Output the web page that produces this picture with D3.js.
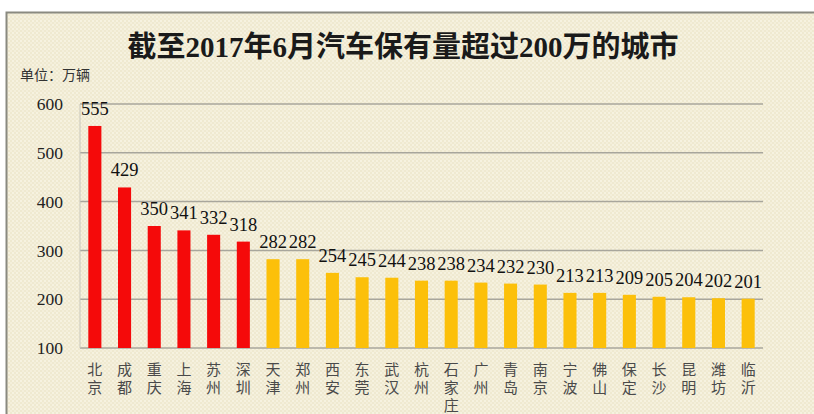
<!DOCTYPE html>
<html>
<head>
<meta charset="utf-8">
<script src="https://cdn.jsdelivr.net/npm/d3@7"></script>
<style>
  body { margin: 0; background: #fff; }
  svg { display: block; }
</style>
</head>
<body>
<script>
// chart data
var cities = ["北京", "成都", "重庆", "上海", "苏州", "深圳", "天津", "郑州", "西安", "东莞", "武汉", "杭州",
  "石家庄", "广州", "青岛", "南京", "宁波", "佛山", "保定", "长沙", "昆明", "潍坊", "临沂"];
var cars = [555, 429, 350, 341, 332, 318, 282, 282, 254, 245, 244, 238, 238, 234, 232, 230, 213, 213, 209, 205, 204, 202, 201];
var yTicks = [100, 200, 300, 400, 500, 600];
var redCount = 6; // first six cities drawn in red

var w = 814, h = 414;
var plotLeft = 80, plotRight = 763, plotTop = 104, plotBottom = 348;

var svg = d3.select("body").append("svg").attr("width", w).attr("height", h);

// textured beige panel
var defs = svg.append("defs");
var pat = defs.append("pattern").attr("id", "tex")
  .attr("width", 4).attr("height", 4).attr("patternUnits", "userSpaceOnUse");
pat.append("rect").attr("width", 4).attr("height", 4).attr("fill", "#efe9d0");
pat.append("rect").attr("x", 0).attr("y", 0).attr("width", 2).attr("height", 2).attr("fill", "#f6f2e0");
pat.append("rect").attr("x", 2).attr("y", 2).attr("width", 2).attr("height", 2).attr("fill", "#f4efdb");

svg.append("rect").attr("x", 6).attr("y", 12).attr("width", w - 6).attr("height", h - 12)
  .attr("fill", "url(#tex)");
svg.append("path").attr("d", "M6.5," + h + "V12.5H" + w)
  .attr("fill", "none").attr("stroke", "#8a8a80").attr("stroke-width", 2);

// title
svg.append("text").attr("x", 403).attr("y", 57).attr("text-anchor", "middle")
  .attr("font-family", "'Liberation Serif', 'Noto Sans CJK SC', serif")
  .attr("font-weight", "bold").attr("font-size", 29).attr("fill", "#1a1a1a")
  .text("截至2017年6月汽车保有量超过200万的城市");

svg.append("text").attr("x", 20).attr("y", 80)
  .attr("font-family", "'Noto Sans CJK SC', sans-serif")
  .attr("font-size", 14).attr("fill", "#333")
  .text("单位：万辆");

var x = d3.scaleBand().domain(cities).range([plotLeft, plotRight]).paddingInner(0.56).paddingOuter(0.28);
var y = d3.scaleLinear().domain([100, 600]).range([plotBottom, plotTop]);

// gridlines
svg.append("g").selectAll("line").data(yTicks).join("line")
  .attr("x1", plotLeft).attr("x2", plotRight)
  .attr("y1", function (d) { return y(d); })
  .attr("y2", function (d) { return y(d); })
  .attr("stroke", "#a8a69c").attr("stroke-width", 1.5);

svg.append("line").attr("x1", plotLeft).attr("x2", plotLeft).attr("y1", plotTop).attr("y2", plotBottom)
  .attr("stroke", "#c8c6bc").attr("stroke-width", 1);

// y axis labels
var yAxis = d3.axisLeft(y).tickValues(yTicks).tickSize(0).tickPadding(17);
var gy = svg.append("g").attr("transform", "translate(" + plotLeft + ",0)").call(yAxis);
gy.select(".domain").remove();
gy.selectAll("text")
  .attr("font-family", "'Liberation Serif', serif")
  .attr("font-size", 17.5).attr("fill", "#222");

// bars
svg.append("g").selectAll("rect").data(cars).join("rect")
  .attr("x", function (d, i) { return x(cities[i]); })
  .attr("width", x.bandwidth())
  .attr("y", function (d) { return y(d); })
  .attr("height", function (d) { return y(100) - y(d); })
  .attr("fill", function (d, i) { return i < redCount ? "#f50a0a" : "#fcc00a"; });

// value labels
svg.append("g").selectAll("text").data(cars).join("text")
  .attr("x", function (d, i) { return x(cities[i]) + x.bandwidth() / 2; })
  .attr("y", function (d) { return y(d) - 11; })
  .attr("text-anchor", "middle")
  .attr("font-family", "'Liberation Serif', serif")
  .attr("font-size", 18.5).attr("fill", "#111")
  .text(function (d) { return d; });

// category labels, stacked vertically
var cat = svg.append("g").selectAll("text").data(cities).join("text")
  .attr("text-anchor", "middle")
  .attr("font-family", "'Noto Sans CJK SC', sans-serif")
  .attr("font-size", 15).attr("fill", "#4a4a4a");
cat.each(function (d) {
  var t = d3.select(this);
  var cx = x(d) + x.bandwidth() / 2;
  d.split("").forEach(function (ch, k) {
    t.append("tspan").attr("x", cx).attr("y", 375 + k * 18).text(ch);
  });
});
</script>
</body>
</html>
